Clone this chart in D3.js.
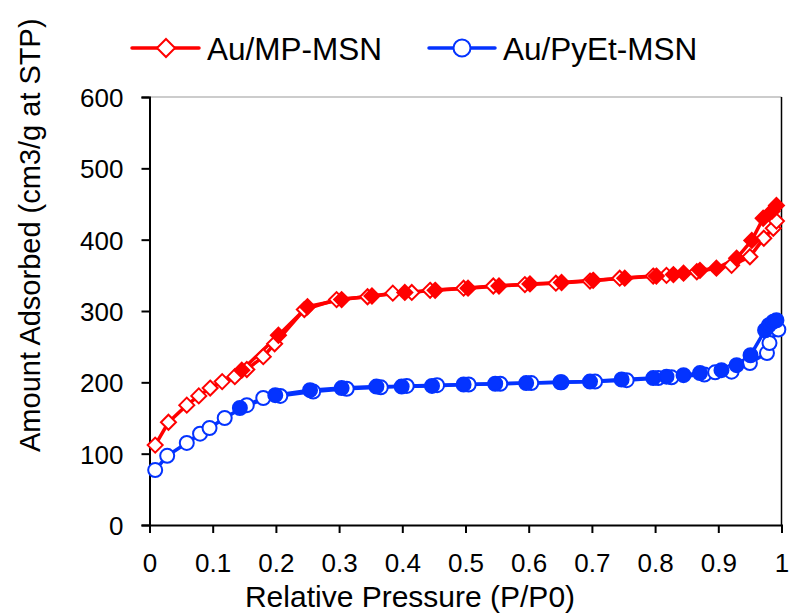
<!DOCTYPE html>
<html><head><meta charset="utf-8">
<script src="https://cdn.jsdelivr.net/npm/d3@7"></script>
<style>body{margin:0;background:#fff}svg{display:block}text{font-family:Arial,"Liberation Sans",sans-serif;fill:#000}</style>
</head><body>
<svg id="c" width="790" height="614"></svg>
<script>
const seriesNames = ["Au/MP-MSN", "Au/PyEt-MSN"];
const redAdsP = [0.009,0.030,0.059,0.078,0.096,0.115,0.135,0.154,0.180,0.198,0.245,0.296,0.345,0.385,0.415,0.444,0.497,0.544,0.594,0.643,0.697,0.744,0.797,0.818,0.866,0.921,0.950,0.972,0.987,0.992];
const redAdsV = [112,144,168,181,192,201,208,218,236,254,302,316,320,325,326,329,332,335,337,339,342,346,349,350,355,364,376,402,416,426];
const redDesP = [0.146,0.204,0.250,0.304,0.352,0.404,0.452,0.504,0.553,0.602,0.652,0.702,0.752,0.802,0.829,0.845,0.871,0.897,0.929,0.953,0.971,0.985,0.992];
const redDesV = [217,266,306,316,321,326,329,332,335,338,340,343,346,349,351,353,357,360,374,399,430,440,448];
const blueAdsP = [0.009,0.028,0.059,0.080,0.095,0.119,0.154,0.180,0.207,0.259,0.312,0.366,0.407,0.455,0.505,0.555,0.604,0.652,0.705,0.755,0.805,0.826,0.878,0.895,0.921,0.950,0.977,0.981,0.995];
const blueAdsV = [77,97,115,128,136,150,168,178,181,187,191,193,195,196,197,198,199,200,201,203,206,207,211,214,215,227,241,255,274];
const blueDesP = [0.143,0.199,0.254,0.304,0.359,0.399,0.447,0.497,0.547,0.596,0.650,0.697,0.747,0.797,0.818,0.845,0.871,0.905,0.929,0.951,0.974,0.980,0.987,0.992];
const blueDesV = [164,182,189,192,194,194,195,197,198,199,200,201,204,206,208,210,213,217,224,238,273,280,285,287];
const xTicks = [0,0.1,0.2,0.3,0.4,0.5,0.6,0.7,0.8,0.9,1];
const yTicks = [0,100,200,300,400,500,600];
const xTitle = "Relative Pressure (P/P0)";
const yTitle = "Amount Adsorbed (cm3/g at STP)";

const RED = "#ff0000", BLUE = "#0433ff";
const svg = d3.select("#c");
const L = 149.5, R = 781.5, T = 97, B = 525;
const x = d3.scaleLinear().domain([0,1]).range([L,R]);
const y = d3.scaleLinear().domain([0,600]).range([B,T]);

// frame
svg.append("line").attr("x1",L).attr("x2",R).attr("y1",T).attr("y2",T).attr("stroke","#999").attr("stroke-width",1.2);
svg.append("line").attr("x1",R).attr("x2",R).attr("y1",T).attr("y2",B).attr("stroke","#000").attr("stroke-width",1.5);

const xAxis = svg.append("g").attr("transform",`translate(0,${B})`)
  .call(d3.axisBottom(x).tickValues(xTicks).tickSize(8).tickPadding(21).tickFormat(d=>d===0||d===1?String(d):d3.format(".1f")(d)));
const yAxis = svg.append("g").attr("transform",`translate(${L},0)`)
  .call(d3.axisLeft(y).tickValues(yTicks).tickSize(8).tickPadding(18));
[xAxis,yAxis].forEach(g=>{
  g.select(".domain").attr("stroke","#000").attr("stroke-width",2);
  g.selectAll(".tick line").attr("stroke","#000").attr("stroke-width",2);
  g.selectAll(".tick text").attr("font-size",26).attr("font-family","Arial, 'Liberation Sans', sans-serif");
});
yAxis.selectAll(".tick text").attr("dy","0.36em");

svg.append("text").attr("x",410).attr("y",607).attr("text-anchor","middle").attr("font-size",30).text(xTitle);
svg.append("text").attr("transform","translate(40,452) rotate(-90)").attr("text-anchor","start").attr("font-size",29).text(yTitle);

const line = d3.line().x(d=>x(d[0])).y(d=>y(d[1]));
const zip = (a,b)=>a.map((v,i)=>[v,b[i]]);
const series = [
  {color:RED, shape:"diamond", ads:zip(redAdsP,redAdsV), des:zip(redDesP,redDesV)},
  {color:BLUE, shape:"circle", ads:zip(blueAdsP,blueAdsV), des:zip(blueDesP,blueDesV)}
];
function marker(g, shape, cx, cy, fill, color, s){
  if(shape==="circle") g.append("circle").attr("cx",cx).attr("cy",cy).attr("r",s).attr("fill",fill).attr("stroke",color).attr("stroke-width",2);
  else g.append("path").attr("d",`M${cx},${cy-s}L${cx+s},${cy}L${cx},${cy+s}L${cx-s},${cy}Z`).attr("fill",fill).attr("stroke",color).attr("stroke-width",2);
}
series.forEach(s=>{
  const g = svg.append("g");
  g.append("path").attr("d",line(s.ads)).attr("fill","none").attr("stroke",s.color).attr("stroke-width",3.5);
  g.append("path").attr("d",line(s.des)).attr("fill","none").attr("stroke",s.color).attr("stroke-width",3.5);
  const sz = s.shape==="circle"?7:7.5;
  s.ads.forEach(d=>marker(g,s.shape,x(d[0]),y(d[1]),"#fff",s.color,sz));
  s.des.forEach(d=>marker(g,s.shape,x(d[0]),y(d[1]),s.color,s.color,sz));
});

// legend
const leg = [{x1:132,x2:199,mx:166,tx:207,color:RED,shape:"diamond",name:seriesNames[0]},
             {x1:429,x2:495,mx:462,tx:503,color:BLUE,shape:"circle",name:seriesNames[1]}];
leg.forEach(l=>{
  const g = svg.append("g");
  g.append("line").attr("x1",l.x1).attr("x2",l.x2).attr("y1",48).attr("y2",48).attr("stroke",l.color).attr("stroke-width",3.5).attr("stroke-linecap","round");
  marker(g,l.shape,l.mx,48,"#fff",l.color,l.shape==="circle"?8.5:9);
  g.append("text").attr("x",l.tx).attr("y",59.5).attr("font-size",31.5).text(l.name);
});
</script>
</body></html>
